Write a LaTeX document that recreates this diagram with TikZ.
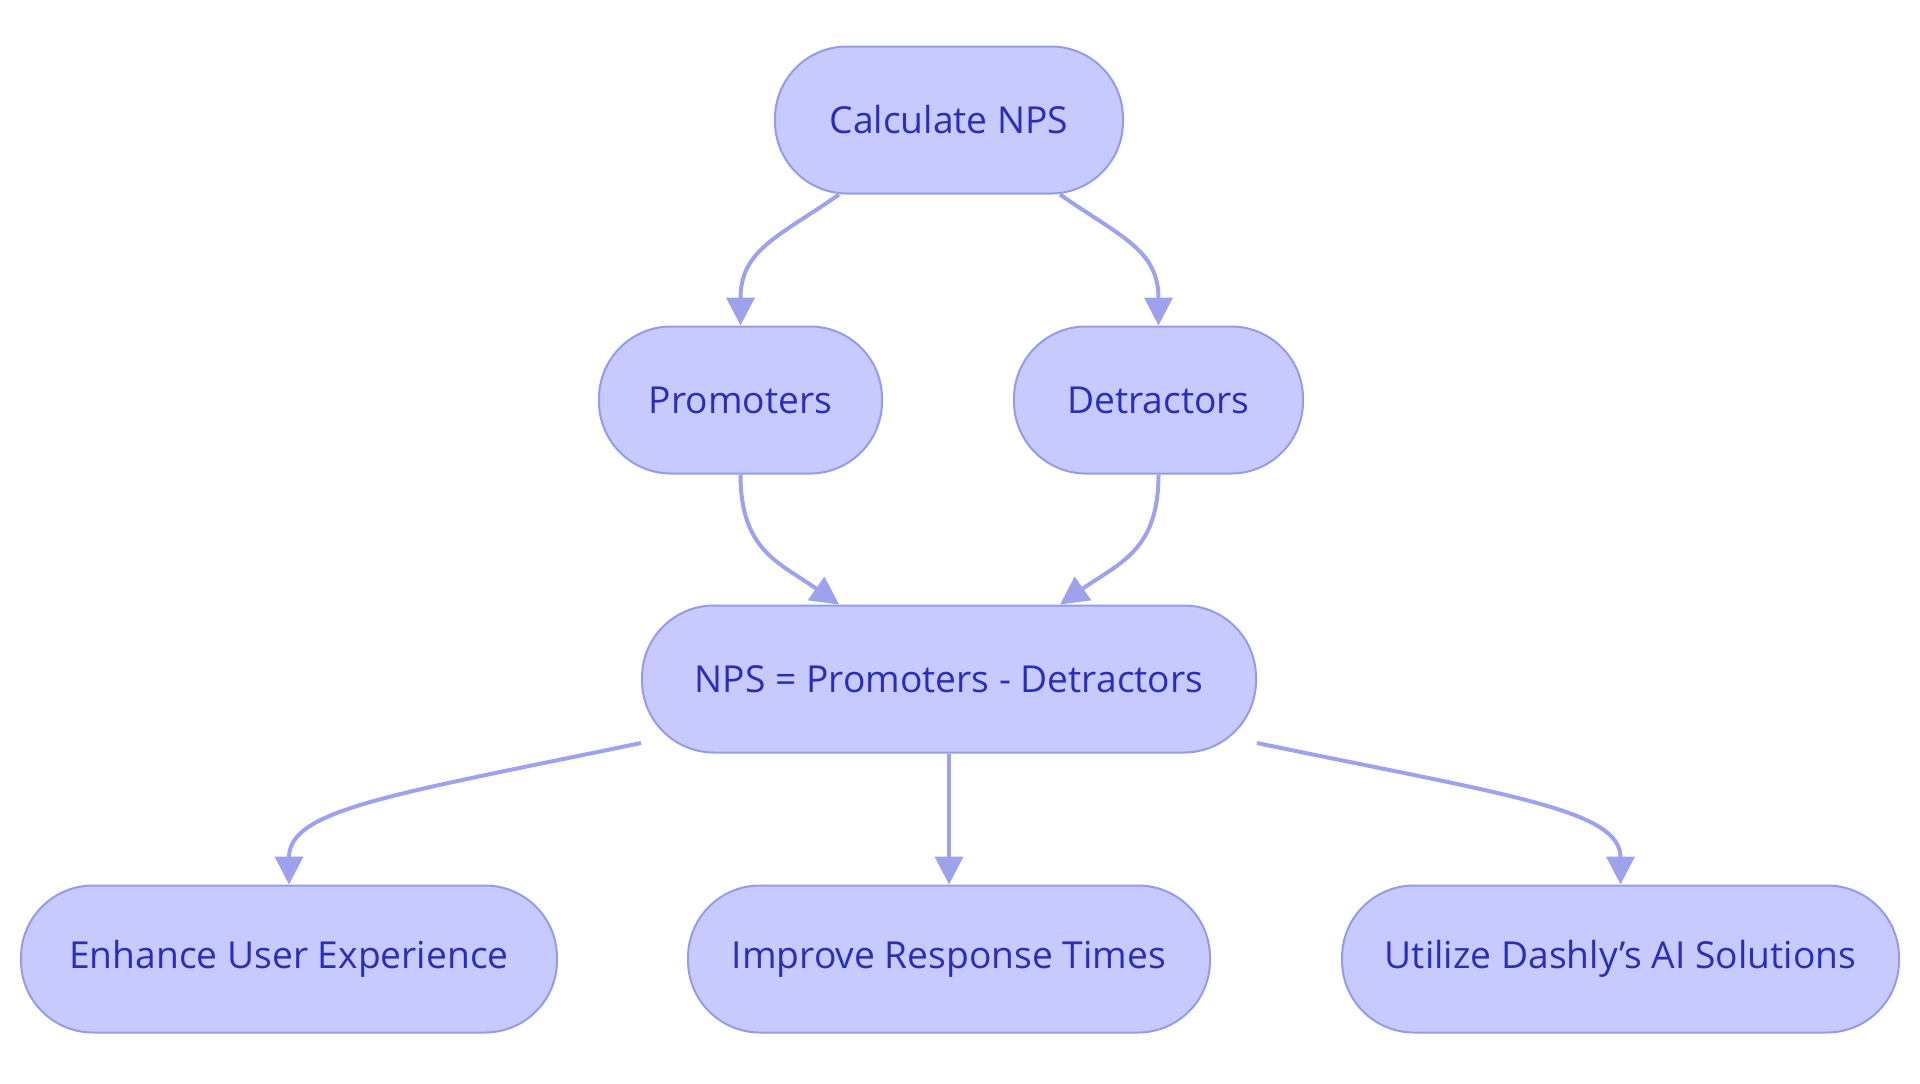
\documentclass[tikz,border=0pt]{standalone}
\usepackage{fontspec}
\setmainfont{Open Sans}
\usepackage{tikz}
\usepackage{xcolor}
\usetikzlibrary{arrows.meta,calc}
\definecolor{fondboite}{RGB}{199,202,254}
\definecolor{bordboite}{RGB}{150,155,232}
\definecolor{texteboite}{RGB}{42,46,182}
\definecolor{fleche}{RGB}{158,162,236}
\tikzset{
Boite/.style={
 draw=bordboite, 
 fill=fondboite, 
 line width=1pt, 
 rounded corners=36pt, 
 minimum height=73.5pt, 
 text=texteboite, 
 font=\fontsize{18.6}{22}\selectfont
 },
Fleche/.style={
 draw=fleche, 
 line width=2pt, 
 -{Triangle[length=14pt,width=14pt]}
 }
}
\begin{document}
\begin{tikzpicture}[x=0.5pt,y=-0.5pt]
\useasboundingbox (0,0) rectangle (1920,1083);
\node[Boite,minimum width=174pt] (calc) at (949,120) {Calculate NPS};
\node[Boite,minimum width=141.5pt] (prom) at (740.5,400) {Promoters};
\node[Boite,minimum width=144.5pt] (detr) at (1158.5,400) {Detractors};
\node[Boite,minimum width=307pt] (nps) at (949,679) {NPS = Promoters - Detractors};
\node[Boite,minimum width=268pt] (ux) at (289,959) {Enhance User Experience};
\node[Boite,minimum width=261pt] (resp) at (949,959) {Improve Response Times};
\node[Boite,minimum width=278.5pt] (ia) at (1620.5,959) {Utilize Dashly’s AI Solutions};
\draw[Fleche] ($(calc.south)+(-110,0)$) .. controls +(-60,42) and +(0,-76) .. (prom.north);
\draw[Fleche] ($(calc.south)+(111,0)$) .. controls +(60,42) and +(0,-76) .. (detr.north);
\draw[Fleche] (prom.south) .. controls +(0,76) and +(-60,-42) .. ($(nps.north)+(-110,0)$);
\draw[Fleche] (detr.south) .. controls +(0,76) and +(60,-42) .. ($(nps.north)+(111,0)$);
\draw[Fleche] ($(nps.west)+(0,64)$) .. controls +(-250,52) and +(0,-75) .. (ux.north);
\draw[Fleche] (nps.south) -- (resp.north);
\draw[Fleche] ($(nps.east)+(0,64)$) .. controls +(250,52) and +(0,-75) .. (ia.north);
\end{tikzpicture}
\end{document}
